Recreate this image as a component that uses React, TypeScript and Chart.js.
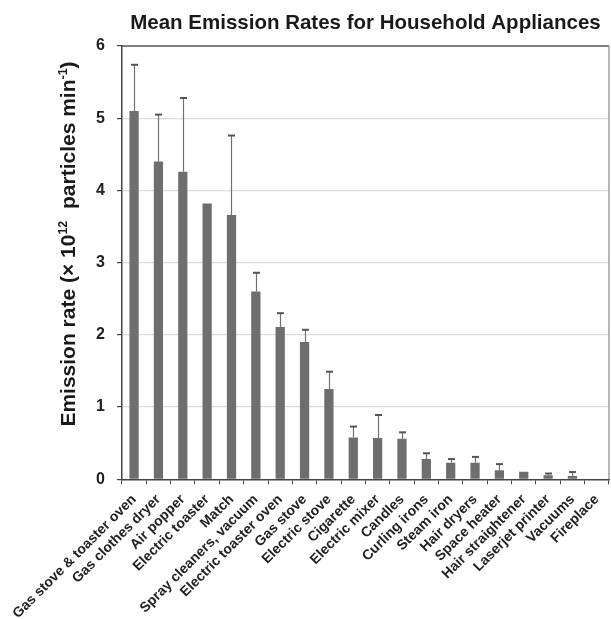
import React, { useEffect, useRef } from 'react';
import { Chart, registerables } from 'chart.js';

Chart.register(...registerables);

const categories = [
  'Gas stove & toaster oven',
  'Gas clothes dryer',
  'Air popper',
  'Electric toaster',
  'Match',
  'Spray cleaners, vacuum',
  'Electric toaster oven',
  'Gas stove',
  'Electric stove',
  'Cigarette',
  'Electric mixer',
  'Candles',
  'Curling irons',
  'Steam iron',
  'Hair dryers',
  'Space heater',
  'Hair straightener',
  'Laserjet printer',
  'Vacuums',
  'Fireplace',
];

const meanRates = [
  5.1, 4.4, 4.26, 3.82, 3.66, 2.6, 2.11, 1.9, 1.25, 0.58,
  0.57, 0.56, 0.28, 0.23, 0.23, 0.125, 0.105, 0.055, 0.045, 0,
];

const upperErrors = [
  0.64, 0.65, 1.02, 0, 1.1, 0.26, 0.19, 0.17, 0.24, 0.15,
  0.32, 0.09, 0.08, 0.05, 0.08, 0.085, 0, 0.025, 0.055, 0,
];

const yTickValues = [0, 1, 2, 3, 4, 5, 6];

const titleText = 'Mean Emission Rates for Household Appliances';

const yTitleParts = [
  { text: 'Emission rate (× 10', sup: false },
  { text: '12', sup: true },
  { text: '  particles min', sup: false },
  { text: '-1', sup: true },
  { text: ')', sup: false },
];

const FONT = '"Liberation Sans", Arial, sans-serif';

const errorBarPlugin = {
  id: 'errorBars',
  afterDatasetsDraw(chart: any) {
    const { ctx } = chart;
    const y = chart.scales.y;
    const meta = chart.getDatasetMeta(0);
    ctx.save();
    meta.data.forEach((bar: any, i: number) => {
      const e = upperErrors[i];
      if (!e) return;
      const v = meanRates[i];
      const x = Math.round(bar.x) + 0.5;
      const yTop = y.getPixelForValue(v + e);
      const yBase = y.getPixelForValue(v);
      ctx.strokeStyle = '#707070';
      ctx.lineWidth = 1.2;
      ctx.beginPath();
      ctx.moveTo(x, yBase);
      ctx.lineTo(x, yTop);
      ctx.stroke();
      ctx.lineWidth = 2;
      ctx.strokeStyle = '#555';
      ctx.beginPath();
      ctx.moveTo(x - 3.5, yTop);
      ctx.lineTo(x + 3.5, yTop);
      ctx.stroke();
    });
    ctx.restore();
  },
};

const decorPlugin = {
  id: 'decor',
  afterDraw(chart: any) {
    const { ctx, chartArea } = chart;
    ctx.save();
    // frame top and right
    ctx.strokeStyle = '#555';
    ctx.lineWidth = 1.5;
    ctx.beginPath();
    ctx.moveTo(chartArea.left, chartArea.top);
    ctx.lineTo(chartArea.right, chartArea.top);
    ctx.stroke();
    ctx.strokeStyle = '#8a8a8a';
    ctx.lineWidth = 1.2;
    ctx.beginPath();
    ctx.moveTo(chartArea.right, chartArea.top);
    ctx.lineTo(chartArea.right, chartArea.bottom);
    ctx.stroke();

    // title
    ctx.fillStyle = '#1a1a1a';
    ctx.font = `bold 20.5px ${FONT}`;
    ctx.textAlign = 'center';
    ctx.textBaseline = 'alphabetic';
    ctx.fillText(titleText, (chartArea.left + chartArea.right) / 2, 29);

    // y axis title (rotated, with superscripts)
    const mainFont = `bold 21px ${FONT}`;
    const supFont = `bold 12.5px ${FONT}`;
    let total = 0;
    const widths = yTitleParts.map((p) => {
      ctx.font = p.sup ? supFont : mainFont;
      const w = ctx.measureText(p.text).width;
      total += w;
      return w;
    });
    ctx.translate(68, 244);
    ctx.rotate(-Math.PI / 2);
    ctx.textAlign = 'left';
    ctx.textBaseline = 'alphabetic';
    let cx = -total / 2;
    yTitleParts.forEach((p, i) => {
      ctx.font = p.sup ? supFont : mainFont;
      ctx.fillText(p.text, cx, p.sup ? -1 : 7);
      cx += widths[i];
    });
    ctx.restore();
  },
};

export default function App() {
  const canvasRef = useRef<HTMLCanvasElement | null>(null);

  useEffect(() => {
    if (!canvasRef.current) return;
    const chart = new Chart(canvasRef.current, {
      type: 'bar',
      data: {
        labels: categories,
        datasets: [
          {
            data: meanRates,
            backgroundColor: '#6e6e6e',
            borderWidth: 0,
            barPercentage: 0.38,
            categoryPercentage: 1,
          },
        ],
      },
      options: {
        responsive: true,
        maintainAspectRatio: false,
        animation: false,
        layout: { autoPadding: false, padding: { top: 46, right: 2, left: 84, bottom: -10 } },
        plugins: {
          legend: { display: false },
          title: { display: false },
          tooltip: { enabled: false },
        },
        scales: {
          x: {
            afterFit: (s: any) => {
              s.paddingLeft = 0;
              s.paddingRight = 0;
            },
            grid: {
              drawOnChartArea: false,
              drawTicks: true,
              tickLength: 5,
              tickColor: '#444',
              offset: true,
            },
            border: { display: true, color: '#444', width: 1.5 },
            ticks: {
              autoSkip: false,
              minRotation: 45,
              maxRotation: 45,
              padding: 7,
              color: '#222',
              font: { family: FONT, size: 14, weight: 'bold' },
            },
          },
          y: {
            min: 0,
            max: 6,
            afterBuildTicks: (scale: any) => {
              scale.ticks = yTickValues.map((v) => ({ value: v }));
            },
            grid: {
              color: (c: any) => (c.tick && (c.tick.value === 0 || c.tick.value === 6) ? 'rgba(0,0,0,0)' : '#dcdcdc'),
              lineWidth: 1.2,
              drawTicks: true,
              tickLength: 5,
              tickColor: '#444',
            },
            border: { display: true, color: '#444', width: 1.5 },
            ticks: {
              padding: 12,
              color: '#222',
              font: { family: FONT, size: 16, weight: 'bold' },
            },
          },
        },
      },
      plugins: [errorBarPlugin, decorPlugin],
    });
    return () => chart.destroy();
  }, []);

  return (
    <div style={{ position: 'absolute', left: 0, top: 0, width: 611, height: 619, background: '#fff' }}>
      <canvas ref={canvasRef} />
    </div>
  );
}
